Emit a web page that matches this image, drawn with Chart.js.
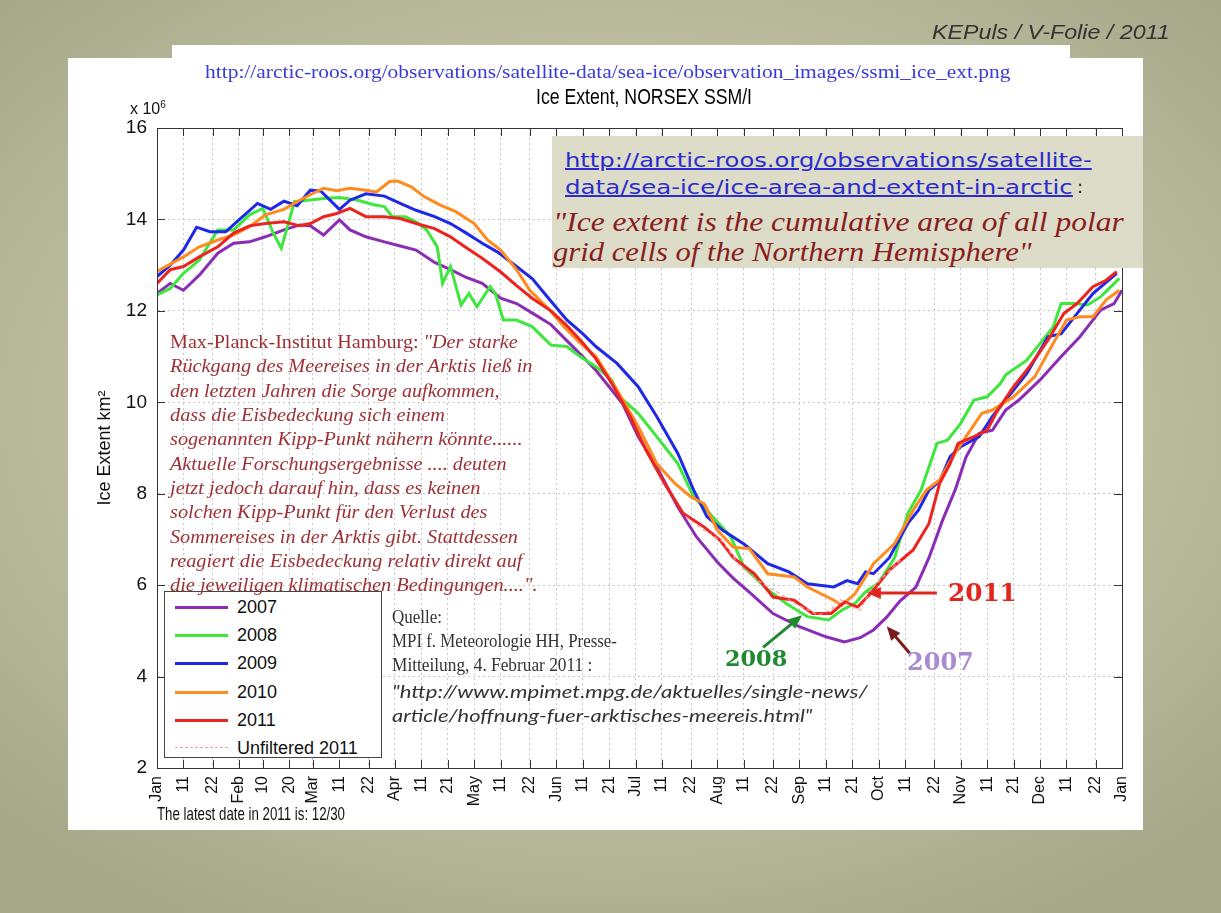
<!DOCTYPE html>
<html>
<head>
<meta charset="utf-8">
<script src="https://cdn.jsdelivr.net/npm/chart.js@4.4.1/dist/chart.umd.min.js"></script>
<style>
body{margin:0;width:1221px;height:913px;overflow:hidden;position:relative;
  background:radial-gradient(ellipse 70% 65% at 50% 45%,#d0d0ae 0%,#c3c3a4 50%,#a6a689 100%);
  font-family:"Liberation Sans",Arial,sans-serif}
.card{position:absolute;background:#fff}
#chart{position:absolute;left:0;top:0;z-index:2}
.t{position:absolute;white-space:nowrap;transform-origin:0 50%;line-height:22px;z-index:4}
.mp{font:italic 18px "Liberation Serif",serif;color:#9e3036;left:170px}
.q{font:18px "Liberation Serif",serif;color:#333;left:392px}
.qi{font:italic 18px "Lato",sans-serif}
.lnk{font:20px "DejaVu Sans",sans-serif;color:#2b2bd0;text-decoration:underline;line-height:26px}
.quo{font:italic 28px "Liberation Serif",serif;color:#8a1e1e;line-height:32px}
.ann{font:bold 24px "DejaVu Serif",serif;line-height:30px}
#box{position:absolute;left:552px;top:136px;width:591px;height:132px;background:#dcdcc9;z-index:3}
#legend{position:absolute;left:164px;top:591px;width:216px;height:165px;background:#fff;border:1px solid #444;z-index:3}
.row{position:absolute;left:0;height:22px}
.row span.s{position:absolute;left:10px;top:10px;width:53px;height:0}
.row span.l{position:absolute;left:72px;top:0;font:18px "Liberation Sans",sans-serif;line-height:22px;white-space:nowrap;color:#111}
</style>
</head>
<body>
<div class="card" style="left:172px;top:45px;width:898px;height:14px"></div>
<div class="card" style="left:68px;top:58px;width:1075px;height:772px"></div>

<canvas id="chart" width="1221" height="913"></canvas>

<div class="t" style="left:932px;top:20px;font:italic 21px 'Liberation Sans';color:#333" data-w="238">KEPuls / V-Folie / 2011</div>
<div class="t" style="left:205px;top:62px;font:18px 'Liberation Serif';color:#3a3ad8" data-w="805">http://arctic-roos.org/observations/satellite-data/sea-ice/observation_images/ssmi_ice_ext.png</div>
<div class="t" style="left:536px;top:84px;font:22px 'Liberation Sans';color:#000" data-w="216">Ice Extent, NORSEX SSM/I</div>
<div class="t" style="left:130px;top:99px;font:16px 'Liberation Sans';color:#111">x 10<sup style="font-size:10px">6</sup></div>
<div class="t" style="left:157px;top:803px;font:19px 'Liberation Sans';color:#111" data-w="188">The latest date in 2011 is: 12/30</div>

<div id="box"></div>
<div class="t lnk" style="left:565px;top:147px" data-w="527">http://arctic-roos.org/observations/satellite-</div>
<div class="t lnk" style="left:565px;top:174px" data-w="508">data/sea-ice/ice-area-and-extent-in-arctic</div>
<div class="t" style="left:1077px;top:176px;font:18px 'DejaVu Sans';color:#222">:</div>
<div class="t quo" style="left:553px;top:206px" data-w="571">"Ice extent is the cumulative area of all polar</div>
<div class="t quo" style="left:553px;top:236px" data-w="479">grid cells of the Northern Hemisphere"</div>

<div class="t mp" style="top:332px" data-w="348"><span style="font-style:normal">Max-Planck-Institut Hamburg: </span>"Der starke</div>
<div class="t mp" style="top:356px" data-w="362">Rückgang des Meereises in der Arktis ließ in</div>
<div class="t mp" style="top:381px" data-w="330">den letzten Jahren die Sorge aufkommen,</div>
<div class="t mp" style="top:405px" data-w="275">dass die Eisbedeckung sich einem</div>
<div class="t mp" style="top:429px" data-w="352">sogenannten Kipp-Punkt nähern könnte......</div>
<div class="t mp" style="top:454px" data-w="337">Aktuelle Forschungsergebnisse .... deuten</div>
<div class="t mp" style="top:478px" data-w="310">jetzt jedoch darauf hin, dass es keinen</div>
<div class="t mp" style="top:502px" data-w="317">solchen Kipp-Punkt für den Verlust des</div>
<div class="t mp" style="top:527px" data-w="348">Sommereises in der Arktis gibt. Stattdessen</div>
<div class="t mp" style="top:551px" data-w="352">reagiert die Eisbedeckung relativ direkt auf</div>
<div class="t mp" style="top:575px" data-w="367">die jeweiligen klimatischen Bedingungen....".</div>

<div class="t q" style="top:607px" data-w="50">Quelle:</div>
<div class="t q" style="top:631px" data-w="225">MPI f. Meteorologie HH, Presse-</div>
<div class="t q" style="top:655px" data-w="200">Mitteilung, 4. Februar 2011 :</div>
<div class="t q qi" style="top:680px" data-w="476">"http://www.mpimet.mpg.de/aktuelles/single-news/</div>
<div class="t q qi" style="top:704px" data-w="420">article/hoffnung-fuer-arktisches-meereis.html"</div>

<div class="t ann" style="left:948px;top:578px;color:#e3261d" data-w="69">2011</div>
<div class="t ann" style="left:725px;top:643px;color:#1f8a30;font-size:22px" data-w="62">2008</div>
<div class="t ann" style="left:907px;top:647px;color:#a98bd2" data-w="67">2007</div>

<div id="legend"></div>

<script>
// x axis: day of year, ticks as on the original plot
const tickDays = [0,10,21,31,40,50,59,69,80,90,100,110,120,130,141,151,161,171,181,191,202,212,222,233,243,253,263,273,283,294,304,314,324,334,344,355,365];
const tickLabels = ["Jan","11","22","Feb","10","20","Mar","11","22","Apr","11","21","May","11","22","Jun","11","21","Jul","11","22","Aug","11","22","Sep","11","21","Oct","11","22","Nov","11","21","Dec","11","22","Jan"];

// ice extent, 10^6 km2
const days2007 = [0,5,10,16,23,29,35,41,48,54,58,63,69,73,79,86,92,98,105,111,117,123,130,136,142,149,155,161,166,176,182,189,197,204,212,218,225,233,243,253,260,266,271,276,281,287,292,297,302,306,311,316,321,326,334,342,349,357,362,365];
const ext2007 = [12.38,12.6,12.45,12.78,13.26,13.48,13.51,13.62,13.77,13.88,13.86,13.66,13.99,13.77,13.62,13.51,13.42,13.33,13.06,12.9,12.73,12.6,12.28,12.16,11.95,11.7,11.35,11.0,10.7,9.98,9.25,8.59,7.71,7.06,6.5,6.15,5.8,5.38,5.09,4.87,4.76,4.85,5.02,5.3,5.65,5.95,6.6,7.4,8.1,8.8,9.32,9.39,9.83,10.05,10.49,11.0,11.43,12.02,12.16,12.45];

const days2008 = [0,5,10,16,23,29,35,40,44,47,49,52,57,63,69,76,82,86,89,94,98,102,106,108,111,115,118,121,126,128,131,136,142,149,155,160,166,172,175,182,189,197,203,209,217,222,231,238,246,254,259,264,268,273,279,284,289,295,299,304,309,314,319,321,329,335,339,342,347,352,357,364];
const ext2008 = [12.35,12.49,12.82,13.11,13.77,13.77,14.1,14.24,13.7,13.37,13.77,14.39,14.42,14.46,14.48,14.42,14.32,14.28,14.06,14.06,13.95,13.77,13.4,12.6,12.97,12.13,12.38,12.09,12.53,12.38,11.8,11.8,11.65,11.25,11.22,11.0,10.78,10.49,10.12,9.76,9.25,8.66,7.93,7.57,7.06,6.4,5.9,5.6,5.31,5.24,5.45,5.6,5.85,6.05,6.6,7.57,8.08,9.1,9.17,9.54,10.05,10.12,10.41,10.6,10.92,11.36,11.65,12.16,12.16,12.13,12.31,12.71];

const days2009 = [0,5,10,15,20,26,31,38,43,48,53,58,62,69,73,79,86,92,98,105,111,117,123,129,136,142,148,155,161,166,174,182,189,197,203,208,214,222,231,239,246,256,261,265,268,271,277,284,288,292,296,300,304,311,316,324,329,337,342,347,354,363];
const ext2009 = [12.75,13.0,13.33,13.83,13.73,13.73,13.99,14.35,14.22,14.4,14.3,14.64,14.62,14.22,14.42,14.56,14.51,14.35,14.2,14.06,13.91,13.7,13.48,13.28,12.97,12.7,12.28,11.8,11.5,11.22,10.85,10.34,9.69,8.88,8.08,7.5,7.2,6.9,6.47,6.29,6.03,5.96,6.1,6.03,6.29,6.25,6.6,7.35,7.64,8.08,8.27,8.81,9.03,9.25,9.69,10.27,10.63,11.43,11.5,11.87,12.38,12.82];

const days2010 = [0,10,16,23,29,35,41,48,54,60,63,68,73,79,83,88,91,96,101,107,113,120,125,130,136,141,148,154,160,166,174,182,189,196,202,207,212,218,224,231,241,246,256,259,264,268,271,279,286,291,296,301,306,312,316,324,332,339,344,349,354,359,364];
const ext2010 = [12.86,13.18,13.4,13.55,13.66,13.84,14.1,14.22,14.42,14.6,14.68,14.63,14.68,14.64,14.6,14.83,14.84,14.72,14.5,14.32,14.17,13.91,13.55,13.33,12.9,12.45,12.05,11.65,11.3,11.0,10.27,9.47,8.66,8.22,7.93,7.78,7.2,6.83,6.8,6.25,6.18,5.96,5.67,5.56,5.81,6.18,6.47,6.91,7.64,8.08,8.3,8.81,9.25,9.76,9.83,10.12,10.56,11.29,11.8,11.87,11.87,12.24,12.45];

const days2011 = [0,5,10,16,23,29,35,41,48,54,58,63,68,73,79,86,92,98,105,111,117,123,130,136,142,149,155,161,166,172,179,185,192,199,207,213,218,226,233,241,248,255,260,265,270,277,286,292,296,300,303,309,314,318,324,330,337,343,348,354,359,363];
const ext2011 = [12.6,12.9,12.97,13.18,13.4,13.7,13.86,13.91,13.95,13.86,13.91,14.06,14.13,14.24,14.06,14.06,14.02,13.91,13.8,13.62,13.38,13.15,12.85,12.55,12.27,12.0,11.68,11.3,10.95,10.41,9.69,8.95,8.22,7.57,7.27,6.98,6.6,6.25,5.74,5.67,5.38,5.38,5.63,5.52,5.82,6.33,6.77,7.35,8.22,8.66,9.1,9.25,9.39,9.83,10.34,10.78,11.36,11.94,12.16,12.53,12.67,12.86];

// unfiltered 2011, only visible where it sticks out of the red line
const daysRaw2011 = [200,207,214,220,226,230,236,241,245,250,255,258,262,266,270,275,282];
const extRaw2011 = [7.5,7.2,6.95,6.45,6.15,6.0,5.8,5.6,5.5,5.35,5.45,5.7,5.55,5.45,5.9,6.2,6.6];

const seriesNames = ["2007","2008","2009","2010","2011","Unfiltered 2011"];
const seriesColors = ["#8a2cb4","#3ee63e","#1e28e6","#ff8a1e","#ec2420","#ff9a9a"];

const font = "'Liberation Sans', Arial, sans-serif";
const pts = (d, v) => d.map((x, i) => ({ x: x, y: v[i] }));
const allDays = [days2007, days2008, days2009, days2010, days2011, daysRaw2011];
const allExt = [ext2007, ext2008, ext2009, ext2010, ext2011, extRaw2011];

// arrows from the annotation labels to the curves (head at a data point, tail offset in px)
const arrows = [
  { day: 268.5, val: 5.83, dx: 70, dy: 0, color: "#e3261d" },
  { day: 244, val: 5.34, dx: -39, dy: 32, color: "#1f8a30" },
  { day: 276, val: 5.1, dx: 23, dy: 27, color: "#7a1c1c" }
];

const frame = {
  id: "frame",
  afterDraw(chart) {
    const { ctx, chartArea: a, scales } = chart;
    const x = scales.x, y = scales.y;
    ctx.save();
    ctx.strokeStyle = "#333";
    ctx.lineWidth = 1;
    ctx.strokeRect(a.left + 0.5, a.top + 0.5, a.width, a.height);
    // matlab style inward ticks on all four sides
    ctx.beginPath();
    x.ticks.forEach(t => {
      const px = Math.round(x.getPixelForValue(t.value)) + 0.5;
      ctx.moveTo(px, a.bottom); ctx.lineTo(px, a.bottom - 8);
      ctx.moveTo(px, a.top); ctx.lineTo(px, a.top + 8);
    });
    y.ticks.forEach(t => {
      const py = Math.round(y.getPixelForValue(t.value)) + 0.5;
      ctx.moveTo(a.left, py); ctx.lineTo(a.left + 8, py);
      ctx.moveTo(a.right, py); ctx.lineTo(a.right - 8, py);
    });
    ctx.stroke();

    arrows.forEach(ar => {
      const hx = x.getPixelForValue(ar.day), hy = y.getPixelForValue(ar.val);
      const tx = hx + ar.dx, ty = hy + ar.dy;
      const ang = Math.atan2(hy - ty, hx - tx);
      ctx.strokeStyle = ar.color;
      ctx.fillStyle = ar.color;
      ctx.lineWidth = 3;
      ctx.beginPath();
      ctx.moveTo(tx, ty);
      ctx.lineTo(hx - 10 * Math.cos(ang), hy - 10 * Math.sin(ang));
      ctx.stroke();
      ctx.beginPath();
      ctx.moveTo(hx, hy);
      ctx.lineTo(hx - 14 * Math.cos(ang) + 6 * Math.sin(ang), hy - 14 * Math.sin(ang) - 6 * Math.cos(ang));
      ctx.lineTo(hx - 14 * Math.cos(ang) - 6 * Math.sin(ang), hy - 14 * Math.sin(ang) + 6 * Math.cos(ang));
      ctx.closePath();
      ctx.fill();
    });
    ctx.restore();
  }
};

const datasets = seriesNames.map((name, i) => ({
  label: name,
  data: pts(allDays[i], allExt[i]),
  borderColor: seriesColors[i],
  borderWidth: i === 5 ? 1.2 : 3,
  borderDash: i === 5 ? [4, 3] : [],
  pointRadius: 0,
  tension: 0,
  fill: false,
  order: i === 5 ? 0 : 5 - i
}));

new Chart(document.getElementById("chart").getContext("2d"), {
  type: "line",
  data: { datasets: datasets },
  options: {
    responsive: false,
    animation: false,
    layout: { padding: { left: 94, top: 128, right: 99, bottom: 0 } },
    plugins: { legend: { display: false }, tooltip: { enabled: false } },
    scales: {
      x: {
        type: "linear", min: 0, max: 365,
        afterBuildTicks: s => { s.ticks = tickDays.map(v => ({ value: v })); },
        afterFit: s => { s.height = 145; },
        ticks: {
          autoSkip: false, minRotation: 90, maxRotation: 90, padding: 8,
          color: "#111", font: { family: font, size: 16 },
          callback: (v, i) => tickLabels[i]
        },
        grid: { color: "#c8c8c8", drawTicks: false },
        border: { color: "#333", dash: [2, 3] }
      },
      y: {
        min: 2, max: 16,
        afterFit: s => { s.width = 63; },
        ticks: { stepSize: 2, padding: 10, color: "#111", font: { family: font, size: 19 } },
        grid: { color: "#c8c8c8", drawTicks: false },
        border: { color: "#333", dash: [2, 3] },
        title: { display: true, text: "Ice Extent km²", color: "#111", font: { family: font, size: 18 }, padding: 0 }
      }
    }
  },
  plugins: [frame]
});

// legend, built from the series lists
const legend = document.getElementById("legend");
seriesNames.forEach((name, i) => {
  const row = document.createElement("div");
  row.className = "row";
  row.style.top = (4 + i * 28.2) + "px";
  const line = i === 5 ? "1px dashed " : "3px solid ";
  row.innerHTML = '<span class="s" style="border-top:' + line + seriesColors[i] + '"></span><span class="l">' + name + "</span>";
  legend.appendChild(row);
});

// squeeze each text line to the width it has in the picture
document.fonts.ready.then(() => {
  document.querySelectorAll("[data-w]").forEach(el => {
    const w = el.offsetWidth;
    if (w > 0) el.style.transform = "scaleX(" + (+el.dataset.w / w) + ")";
  });
});
</script>
</body>
</html>
